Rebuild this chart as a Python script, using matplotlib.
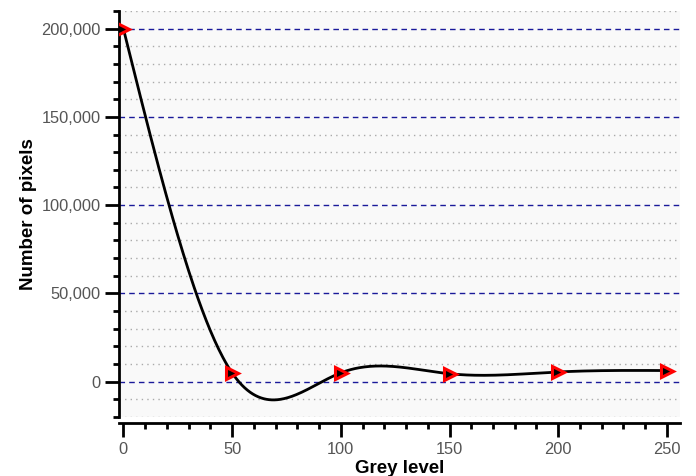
import matplotlib.pyplot as plt
import numpy as np
from matplotlib.ticker import MultipleLocator, FuncFormatter

plt.rcParams['font.family'] = ['Liberation Sans', 'DejaVu Sans']

grey_levels = [0, 50, 100, 150, 200, 250]
pixel_counts = [200000, 5000, 5000, 4500, 5500, 6300]


def natural_spline(xs, ys, n=400):
    xs = np.asarray(xs, float)
    ys = np.asarray(ys, float)
    k = len(xs)
    h = np.diff(xs)
    A = np.zeros((k, k))
    b = np.zeros(k)
    A[0, 0] = A[-1, -1] = 1
    for i in range(1, k - 1):
        A[i, i - 1] = h[i - 1]
        A[i, i] = 2 * (h[i - 1] + h[i])
        A[i, i + 1] = h[i]
        b[i] = 6 * ((ys[i + 1] - ys[i]) / h[i] - (ys[i] - ys[i - 1]) / h[i - 1])
    M = np.linalg.solve(A, b)
    xx = np.linspace(xs[0], xs[-1], n)
    idx = np.clip(np.searchsorted(xs, xx) - 1, 0, k - 2)
    x0, x1 = xs[idx], xs[idx + 1]
    hh = x1 - x0
    a = (x1 - xx) / hh
    c = (xx - x0) / hh
    yy = (a * ys[idx] + c * ys[idx + 1]
          + ((a ** 3 - a) * M[idx] + (c ** 3 - c) * M[idx + 1]) * hh ** 2 / 6)
    return xx, yy


fig = plt.figure(figsize=(6.96, 4.76), dpi=100)
ax = fig.add_axes([0.171, 0.124, 0.806, 0.853])
ax.set_facecolor('#f9f9f9')

sx, sy = natural_spline(grey_levels, pixel_counts)
ax.plot(sx, sy, color='black', lw=2, zorder=3)
ax.plot(grey_levels, pixel_counts, linestyle='none', marker='>', markersize=9,
        markerfacecolor='black', markeredgecolor='red', markeredgewidth=2.2, zorder=4)

ax.set_xlim(-2, 256)
ax.set_ylim(-20000, 210000)

ax.xaxis.set_major_locator(MultipleLocator(50))
ax.xaxis.set_minor_locator(MultipleLocator(10))
ax.yaxis.set_major_locator(MultipleLocator(50000))
ax.yaxis.set_minor_locator(MultipleLocator(10000))
ax.yaxis.set_major_formatter(FuncFormatter(lambda v, p: f'{int(v):,}'))

ax.grid(which='major', axis='y', color='#1a1a9a', linestyle=(0, (4, 3)), lw=1)
ax.grid(which='minor', axis='y', color='#aaaaaa', linestyle=(0, (1, 3)), lw=1)
ax.set_axisbelow(True)

for side in ['top', 'right']:
    ax.spines[side].set_visible(False)
ax.spines['left'].set_linewidth(2)
ax.spines['bottom'].set_linewidth(2)
ax.spines['bottom'].set_position(('outward', 4))

ax.tick_params(which='major', length=10, width=2, color='black',
               labelsize=11.8, labelcolor='#555555', pad=3)
ax.tick_params(which='major', axis='x', pad=4)
ax.tick_params(which='minor', length=4, width=2, color='black')

ax.set_xlabel('Grey level', fontsize=13.5, fontweight='bold', labelpad=2)
ax.set_ylabel('Number of pixels', fontsize=13.5, fontweight='bold', labelpad=3)

fig.savefig('out.png', dpi=100)
